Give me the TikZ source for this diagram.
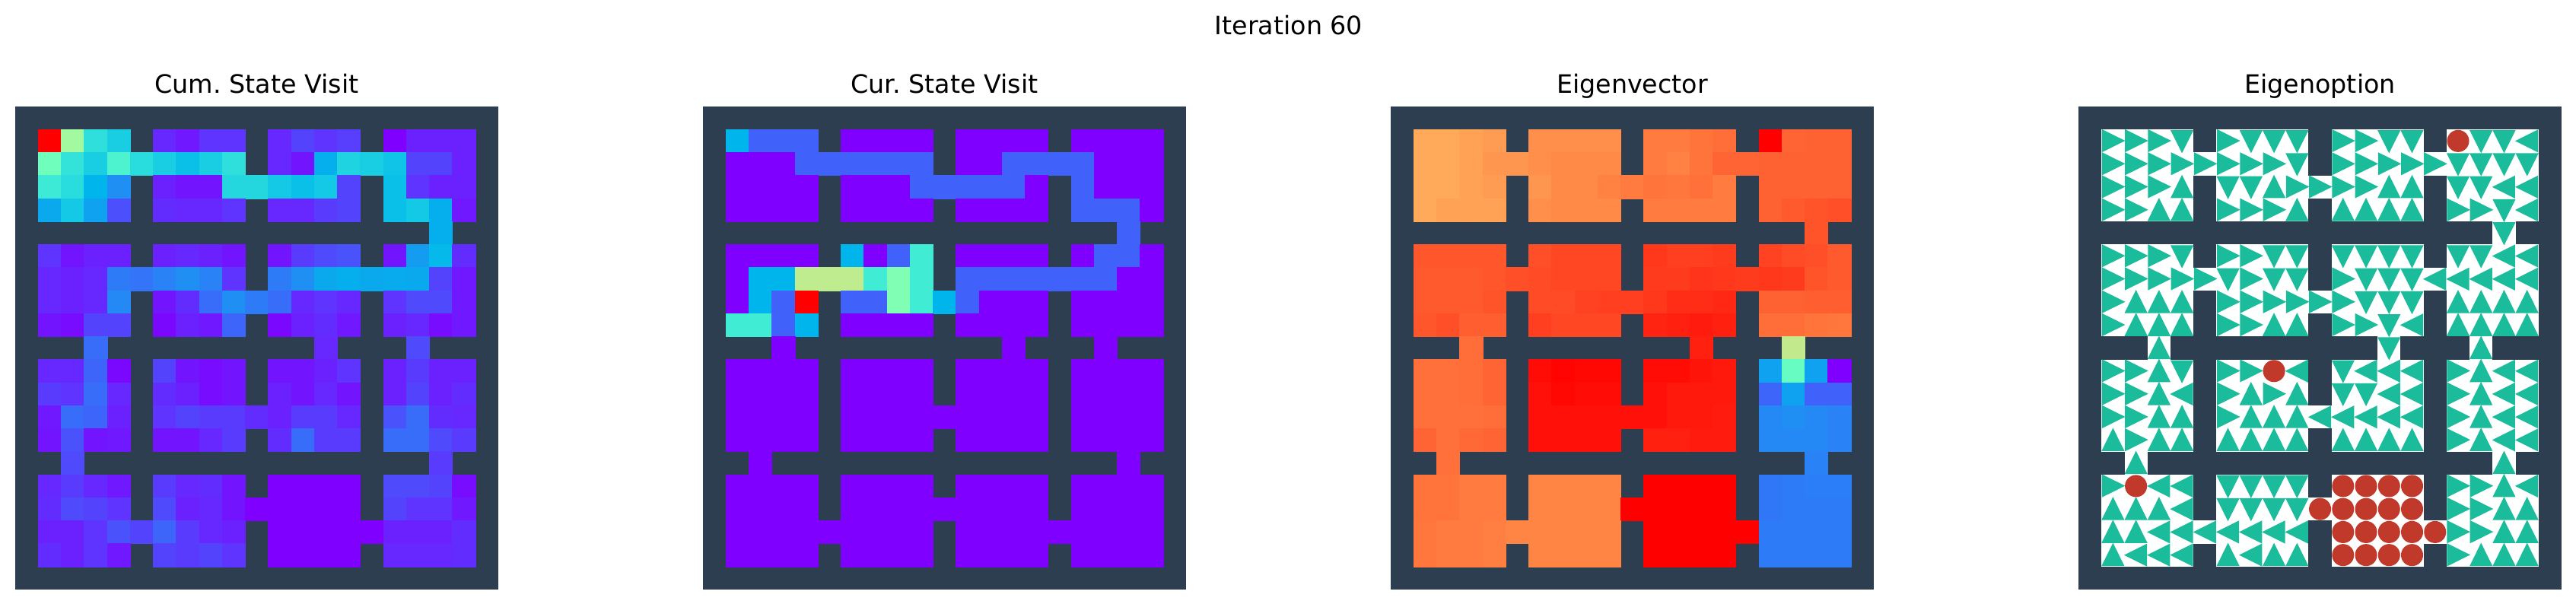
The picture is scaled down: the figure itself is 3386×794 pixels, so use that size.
\documentclass[tikz,border=0pt]{standalone}
\usepackage{fontspec}
\setmainfont{DejaVu Sans}
\usetikzlibrary{arrows.meta}

\definecolor{wallblue}{HTML}{2C3E50}
\definecolor{arrowteal}{HTML}{1ABC9C}
\definecolor{stopred}{HTML}{C0392B}

\tikzset{
	paneltitle/.style={anchor=base,inner sep=0pt,font=\fontsize{9.48}{11}\selectfont},
	wallbox/.style={fill=wallblue},
	arrowmark/.style={fill=arrowteal},
	stopmark/.style={fill=stopred}
}

\newcommand{\heatpanel}[2]{
	\begin{scope}[shift={(#1,140)},x=3.024mm,y=-3.024mm]
		\fill[wallbox] (0,0) rectangle (21,21);
		\foreach \rowvals [count=\rowno] in {#2} {
			\foreach \cellval [count=\colno] in \rowvals {
				\if x\cellval\else
				\pgfmathsetmacro{\shadeR}{min(abs(\cellval/50-0.5),1)}
				\pgfmathsetmacro{\shadeG}{sin(1.8*\cellval)}
				\pgfmathsetmacro{\shadeB}{cos(0.9*\cellval)}
				\definecolor{cellshade}{rgb}{\shadeR,\shadeG,\shadeB}
				\fill[cellshade,draw=cellshade,line width=0.15pt] (\colno,\rowno) rectangle ++(1,1);
				\fi
			}
		}
	\end{scope}
}

\newcommand{\optionrows}{%
	{r,r,r,d,x,r,d,d,d,x,r,r,d,d,x,o,d,d,l},
	{r,r,r,r,r,r,r,r,d,x,r,r,r,r,r,d,d,d,d},
	{r,r,r,u,x,d,d,u,r,r,r,r,u,u,x,d,d,l,l},
	{r,r,u,u,x,r,r,r,u,x,u,u,u,u,x,r,r,d,l},
	{x,x,x,x,x,x,x,x,x,x,x,x,x,x,x,x,x,d,x},
	{r,r,r,d,x,r,r,d,d,x,d,d,d,d,x,d,d,l,l},
	{r,r,r,r,r,d,r,d,d,x,r,d,d,d,l,l,l,l,l},
	{r,u,u,u,x,r,r,r,r,r,r,d,d,d,x,u,u,u,u},
	{r,u,u,u,x,r,r,u,u,x,r,r,d,l,x,u,u,u,u},
	{x,x,u,x,x,x,x,x,x,x,x,x,d,x,x,x,u,x,x},
	{r,r,u,d,x,r,r,o,l,x,d,l,l,l,x,r,u,l,l},
	{r,r,u,l,x,r,u,r,u,x,d,d,l,l,x,r,u,l,l},
	{r,r,u,u,x,r,u,u,u,l,l,l,l,l,x,r,u,l,l},
	{u,r,u,u,x,u,u,u,u,x,u,u,u,u,x,r,u,l,l},
	{x,u,x,x,x,x,x,x,x,x,x,x,x,x,x,x,x,u,x},
	{r,o,l,l,x,d,d,d,d,x,o,o,o,o,x,r,r,u,l},
	{u,u,u,l,x,d,d,d,d,o,o,o,o,o,x,r,r,u,u},
	{u,u,l,l,l,l,l,l,l,x,o,o,o,o,o,r,r,u,u},
	{u,l,l,l,x,u,l,u,u,x,o,o,o,o,x,r,u,u,u}%
}

\begin{document}
\begin{tikzpicture}[x=0.1mm,y=-0.1mm]
	\useasboundingbox (0,0) rectangle (3386,794);
	
	\node[paneltitle] (figtitle) at (1694,46) {Iteration 60};
	\node[paneltitle] (cumtitle) at (337.5,123) {Cum.\ State Visit};
	\node[paneltitle] (curtitle) at (1241.5,123) {Cur.\ State Visit};
	\node[paneltitle] (vectortitle) at (2145.5,123) {Eigenvector};
	\node[paneltitle] (optiontitle) at (3049.5,123) {Eigenoption};
	
	\heatpanel{20}{
		{100,57,34,30,x,5,3,6.5,6.5,x,5,8.5,6.5,8,x,0,4,4,4},
		{47,35,30,40,33,30,27,30,34,x,5,2.5,24,31,30,28,8.5,8.5,4},
		{37,33,25,19,x,4,2.5,2.5,32,32,29,27,29,8.5,x,27,6.5,4,4},
		{23,29,22,10,x,5.5,5,5,6.5,x,5,5,7.5,8.5,x,27,29,24,3},
		{x,x,x,x,x,x,x,x,x,x,x,x,x,x,x,x,x,24,x},
		{6.5,2.5,4,4,x,4,5,4,2.5,x,2.5,7.5,9.5,10.5,x,2.5,21,26,5.5},
		{5,4,5,16,15,17,19,17,6.5,x,16,19,23,24,23,23.5,23,8.5,3},
		{5,4,5,18,x,2.5,5.5,14,19,16,14,5,6.5,5,x,6.5,9.5,9.5,3},
		{2.5,1.5,8.5,8.5,x,1,4,3,13,x,1,4,5.5,3,x,4,5,1.5,3},
		{x,x,14,x,x,x,x,x,x,x,x,x,5,x,x,x,9.5,x,x},
		{5,5,13,1,x,8.5,2.5,1.5,2.5,x,2.5,2.5,4,6.5,x,4,7.5,4,4},
		{7.5,6.5,14,5,x,5.5,4,1.5,2.5,x,4,2.5,5,2.5,x,4,8.5,4,5.5},
		{3,14,13,4,x,6.5,8.5,7.5,7.5,5.5,4,7.5,7.5,5,x,10.5,14,5.5,5},
		{2.5,10.5,2.5,3,x,2.5,2.5,5,7.5,x,5.5,14,7.5,7.5,x,14,14,9.5,7.5},
		{x,9.5,x,x,x,x,x,x,x,x,x,x,x,x,x,x,x,7.5,x},
		{5,7.5,5,3,x,7.5,5,5.5,2.5,x,0,0,0,0,x,9.5,9.5,8.5,1.5},
		{5.5,9.5,8.5,6.5,x,9.5,4,5,2.5,0,0,0,0,0,x,8.5,6.5,6.5,3},
		{4,4,6.5,10.5,8.5,13,7.5,5,4,x,0,0,0,0,0,4,4,4,5.5},
		{5.5,4,6.5,3,x,8.5,7.5,8.5,6.5,x,0,0,0,0,x,5,5,5,5.5}%
	}
	
	\heatpanel{924}{
		{25,12.5,12.5,12.5,x,0,0,0,0,x,0,0,0,0,x,0,0,0,0},
		{0,0,0,12.5,12.5,12.5,12.5,12.5,12.5,x,0,0,12.5,12.5,12.5,12.5,0,0,0},
		{0,0,0,0,x,0,0,0,12.5,12.5,12.5,12.5,12.5,0,x,12.5,0,0,0},
		{0,0,0,0,x,0,0,0,0,x,0,0,0,0,x,12.5,12.5,12.5,0},
		{x,x,x,x,x,x,x,x,x,x,x,x,x,x,x,x,x,12.5,x},
		{0,0,0,0,x,25,0,12.5,37.5,x,0,0,0,0,x,0,12.5,12.5,0},
		{0,25,25,62.5,62.5,62.5,37.5,50,37.5,x,12.5,12.5,12.5,12.5,12.5,12.5,12.5,0,0},
		{0,25,12.5,100,x,12.5,12.5,50,37.5,25,12.5,0,0,0,x,0,0,0,0},
		{37.5,37.5,12.5,25,x,0,0,0,0,x,0,0,0,0,x,0,0,0,0},
		{x,x,0,x,x,x,x,x,x,x,x,x,0,x,x,x,0,x,x},
		{0,0,0,0,x,0,0,0,0,x,0,0,0,0,x,0,0,0,0},
		{0,0,0,0,x,0,0,0,0,x,0,0,0,0,x,0,0,0,0},
		{0,0,0,0,x,0,0,0,0,0,0,0,0,0,x,0,0,0,0},
		{0,0,0,0,x,0,0,0,0,x,0,0,0,0,x,0,0,0,0},
		{x,0,x,x,x,x,x,x,x,x,x,x,x,x,x,x,x,0,x},
		{0,0,0,0,x,0,0,0,0,x,0,0,0,0,x,0,0,0,0},
		{0,0,0,0,x,0,0,0,0,0,0,0,0,0,x,0,0,0,0},
		{0,0,0,0,0,0,0,0,0,x,0,0,0,0,0,0,0,0,0},
		{0,0,0,0,x,0,0,0,0,x,0,0,0,0,x,0,0,0,0}%
	}
	
	\heatpanel{1828}{
		{77,77,78,79,x,81,81,81,81,x,84,84,85,86,x,100,87,87.5,87.5},
		{77,77,78,80,80,81,82,82,82,x,84,83,85,87,87,87.5,87.5,87.5,87.5},
		{77,77,78,79,x,80,82,82,83,84,85,84.5,85.5,84,x,87.5,87.5,87.5,87.5},
		{77,78,78,78,x,81,82,82,82,x,84,84,84,84,x,87.5,88.5,89.5,90},
		{x,x,x,x,x,x,x,x,x,x,x,x,x,x,x,x,x,89.5,x},
		{89,89,89,89,x,90,91,91,91,x,93,92,92,92.5,x,91.5,90.5,90,88.5},
		{88.5,88.5,88.5,89,90,90.5,91,91,91,x,92.5,92.5,93.5,93,92.5,93,92.5,89.5,88.5},
		{88.5,88.5,88.5,89.5,x,90.5,90.5,91.5,92,92,93,94.5,94.5,95,x,87.5,87.5,88,88},
		{89,90,88,88,x,92,91,91,91,x,95.5,96,96.5,96,x,86,86,85,84.5},
		{x,x,86,x,x,x,x,x,x,x,x,x,96,x,x,x,63,x,x},
		{85.5,85.5,86,87,x,98.5,99.5,99,99,x,98.5,98.5,97.5,97,x,22,45,22,0},
		{85.5,85.5,86,87,x,98,99,98.5,98.5,x,98,97,97,97,x,13,22,12.5,12.5},
		{85.5,85.5,85.5,86,x,98,98,98,98,98,98,97,97,96.5,x,18,19,18,17},
		{87,85.5,86.5,87,x,98,98,98,98,x,96,96,96.5,96.5,x,18,18,18,17},
		{x,85.5,x,x,x,x,x,x,x,x,x,x,x,x,x,x,x,17,x},
		{85,85,84,84,x,82.5,82.5,82.5,82.5,x,100,100,100,100,x,15.5,16,16.5,16.5},
		{85,85,84,84,x,82.5,82.5,82.5,82.5,100,100,100,100,100,x,15.5,16,16,16},
		{84.5,84,84,83.5,82.5,82.5,82.5,82.5,82.5,x,100,100,100,100,100,16,16,16,16},
		{84.5,84,84,83.5,x,82.5,82.5,82.5,82.5,x,100,100,100,100,x,16,16,16,16}%
	}
	
	\begin{scope}[shift={(2732,140)},x=3.024mm,y=-3.024mm]
		\fill[wallbox] (0,0) rectangle (21,21);
		\foreach \rowvals [count=\rowno] in \optionrows {
			\foreach \cellval [count=\colno] in \rowvals {
				\if x\cellval\else
				\fill[white] (\colno,\rowno) rectangle ++(1,1);
				\fi
			}
		}
		\foreach \rowvals [count=\rowno] in \optionrows {
			\foreach \cellval [count=\colno] in \rowvals {
				\if r\cellval
				\fill[arrowmark] (\colno+0.02,\rowno-0.01) -- (\colno+1.03,\rowno+0.49) -- (\colno+0.02,\rowno+0.99) -- cycle;
				\fi
				\if l\cellval
				\fill[arrowmark] (\colno+0.98,\rowno) -- (\colno-0.02,\rowno+0.5) -- (\colno+0.98,\rowno+1) -- cycle;
				\fi
				\if u\cellval
				\fill[arrowmark] (\colno,\rowno+0.98) -- (\colno+0.5,\rowno-0.03) -- (\colno+1,\rowno+0.98) -- cycle;
				\fi
				\if d\cellval
				\fill[arrowmark] (\colno,\rowno+0.03) -- (\colno+0.5,\rowno+1.03) -- (\colno+1,\rowno+0.03) -- cycle;
				\fi
				\if o\cellval
				\fill[stopmark] (\colno+0.5,\rowno+0.5) circle (0.48);
				\fi
			}
		}
	\end{scope}
\end{tikzpicture}
\end{document}
